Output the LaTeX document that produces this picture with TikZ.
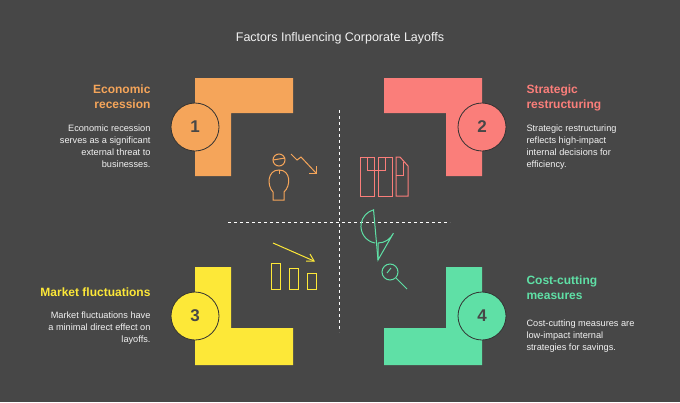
\documentclass[tikz,border=0pt]{standalone}
\usepackage{fontspec}
\setmainfont{Liberation Sans}
\usetikzlibrary{positioning}
\definecolor{bg}{HTML}{474747}
\definecolor{corg}{HTML}{F5A55A}
\definecolor{cred}{HTML}{FA7E7A}
\definecolor{cyel}{HTML}{FDE838}
\definecolor{cgrn}{HTML}{5FE0A6}
\definecolor{ctxt}{HTML}{F2F2F2}
\tikzset{
  numc/.style={circle,draw=bg!70!black,line width=0.8pt,minimum size=48pt,inner sep=0pt,font=\fontsize{17}{17}\selectfont\bfseries,text=bg},
  head/.style={font=\fontsize{12}{15}\selectfont\bfseries,align=left},
  body/.style={font=\fontsize{9.2}{12}\selectfont,text=ctxt,align=left},
  sep/.style={draw=white,dashed,line width=0.8pt},
  icon/.style={line width=1pt}
}
\begin{document}
\begin{tikzpicture}[x=1pt,y=-1pt]
\fill[bg] (0,0) rectangle (680,402);
\useasboundingbox (0,0) rectangle (680,402);
\node[text=ctxt,font=\fontsize{12.5}{14}\selectfont] (title) at (340,38) {Factors Influencing Corporate Layoffs};
% L shapes
\fill[corg] (195,78) -- (293,78) -- (293,113) -- (231,113) -- (231,176) -- (195,176) -- cycle;
\fill[cred] (384,78) -- (482,78) -- (482,176) -- (446,176) -- (446,113) -- (384,113) -- cycle;
\fill[cyel] (195,267) -- (231,267) -- (231,328) -- (293,328) -- (293,365) -- (195,365) -- cycle;
\fill[cgrn] (446,267) -- (482,267) -- (482,365) -- (384,365) -- (384,328) -- (446,328) -- cycle;
\node[numc,fill=corg] (n1) at (195,127) {1};
\node[numc,fill=cred] (n2) at (482,127) {2};
\node[numc,fill=cyel] (n3) at (195,316) {3};
\node[numc,fill=cgrn] (n4) at (482,316) {4};
% dashed cross
\coordinate (vt) at (339,110); \coordinate (vb) at (339,332);
\coordinate (hl) at (228,222); \coordinate (hr) at (450,222);
\draw[sep] (vt) -- (vb);
\draw[sep] (hl) -- (hr);
% texts
\node[head,text=corg,align=right,anchor=north east] (h1) at (154,81) {Economic\\recession};
\node[body,align=right,anchor=north east] (b1) at (154,121) {Economic recession\\serves as a significant\\external threat to\\businesses.};
\node[head,text=cred,anchor=north west] (h2) at (523,81) {Strategic\\restructuring};
\node[body,anchor=north west] (b2) at (523,121) {Strategic restructuring\\reflects high-impact\\internal decisions for\\efficiency.};
\node[head,text=cyel,align=right,anchor=north east] (h3) at (154,284) {Market fluctuations};
\node[body,align=right,anchor=north east] (b3) at (154,308) {Market fluctuations have\\a minimal direct effect on\\layoffs.};
\node[head,text=cgrn,anchor=north west] (h4) at (523,272) {Cost-cutting\\measures};
\node[body,anchor=north west] (b4) at (523,316) {Cost-cutting measures are\\low-impact internal\\strategies for savings.};
% icons
\begin{scope}[icon,draw=corg]
\draw (279,160) circle (6);
\draw (273,160) -- (285,158);
\draw (279,170) -- (279,174);
\draw (273,192) -- (273,200) -- (284,200) -- (284,192) .. controls (291,186) and (291,170) .. (279,170) .. controls (267,170) and (267,186) .. (273,192);
\draw (291,154) -- (297,160) -- (301,157) -- (316,173);
\draw (309,173) -- (316,173) -- (316,166);
\end{scope}
\begin{scope}[icon,draw=cred]
\draw (360,196) rectangle (374,157);
\draw (378,196) rectangle (392,157);
\draw (396,196) -- (396,157) -- (400,157) -- (408,166) -- (408,196) -- cycle;
\draw (367,157) -- (367,170) -- (385,170) -- (385,157);
\draw (403,162) -- (403,175) -- (396,175);
\end{scope}
\begin{scope}[icon,draw=cyel]
\draw (273,243) -- (314,261);
\draw (306,261) -- (314,261) -- (310,254);
\draw (271,263) rectangle (280,289);
\draw (289,268) rectangle (298,289);
\draw (307,273) rectangle (316,289);
\end{scope}
\begin{scope}[icon,draw=cgrn]
\draw (378,260) -- (378,243) arc (90:25:17) -- cycle;
\draw (375,243) arc (100:255:17) -- (378,260);
\draw (390,272) circle (8);
\draw (391,268) -- (387,273);
\draw (396,278) -- (407,289);
\end{scope}
\end{tikzpicture}
\end{document}
